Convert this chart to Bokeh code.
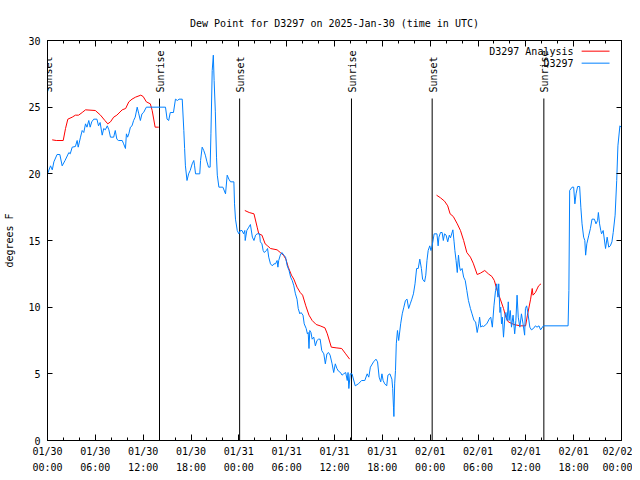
import math
from bokeh.plotting import figure
from bokeh.models import Range1d, FixedTicker, LinearAxis, Label
from bokeh.core.properties import value
from bokeh.embed import file_html
from bokeh.resources import INLINE

NAN = float("nan")

# ---- data (hours since 2025-01-30 00:00 UTC, dew point in degrees F) ----
obs_hours = [0.0, 0.38, 0.6, 0.8, 1.2, 1.55, 1.84, 2.2, 2.68, 2.85, 3.1, 3.5, 3.72, 3.85, 4.14, 4.35, 4.55, 4.77,
             4.95, 5.18, 5.35, 5.55, 5.8, 6.2, 6.4, 6.6, 6.86, 7.05, 7.25, 7.5, 7.7, 7.9, 8.3, 8.5, 8.7, 8.9, 9.37,
             9.55, 9.78, 9.9, 10.05, 10.2, 10.4, 10.6, 10.8, 11.0, 11.25, 11.45, 11.65, 11.85, 12.05, 12.4, 14.8,
             15.0, 15.2, 15.4, 15.8, 16.05, 16.3, 16.5, 16.9, 17.1, 17.2, 17.3, 17.5, 17.7, 17.9, 18.15, 18.35,
             18.45, 18.57, 19.1, 19.2, 19.4, 19.6, 19.8, 20.0, 20.2, 20.4, 20.5, 20.66, 20.8, 20.9, 21.05, 21.2,
             21.3, 21.5, 22.0, 22.33, 22.54, 22.75, 22.96, 23.38, 23.46, 23.58, 23.8, 24.0, 24.2, 24.4, 24.6,
             24.75, 24.8, 25.0, 25.25, 25.45, 25.7, 25.9, 26.1, 26.3, 26.6, 26.7, 26.9, 27.05, 27.2, 27.45, 27.6,
             27.75, 27.97, 28.2, 28.4, 28.6, 28.8, 28.9, 29.0, 29.2, 29.4, 29.65, 29.86, 30.07, 30.3, 30.5, 30.7,
             30.9, 31.1, 31.3, 31.45, 31.65, 31.8, 32.05, 32.2, 32.45, 32.6, 32.7, 32.8, 32.9, 33.05, 33.2, 33.4,
             33.6, 33.8, 34.0, 34.2, 34.4, 34.66, 34.85, 35.05, 35.25, 35.45, 35.7, 35.9, 36.1, 36.3, 36.5, 36.75,
             36.95, 37.15, 37.4, 37.6, 37.7, 37.8, 37.97, 38.2, 38.6, 39.0, 39.4, 39.8, 40.1, 40.3, 40.5, 40.9,
             41.2, 41.4, 41.6, 41.8, 41.95, 42.1, 42.3, 42.55, 42.7, 42.95, 43.2, 43.3, 43.4, 43.45, 43.55, 43.65,
             43.75, 43.9, 44.05, 44.3, 44.5, 44.7, 44.9, 45.1, 45.3, 45.5, 45.7, 45.9, 46.1, 46.3, 46.5, 46.7,
             46.9, 47.05, 47.3, 47.45, 47.6, 47.75, 47.95, 48.1, 48.25, 48.5, 48.85, 49.0, 49.1, 49.3, 49.5,
             49.65, 49.8, 50.0, 50.2, 50.4, 50.55, 50.85, 51.0, 51.1, 51.25, 51.4, 51.55, 51.7, 51.8, 52.0, 52.2,
             52.4, 52.6, 52.8, 53.05, 53.25, 53.5, 53.7, 53.9, 54.1, 54.2, 54.35, 54.5, 54.7, 55.1, 55.4, 55.6,
             55.8, 56.0, 56.2, 56.35, 56.5, 56.6, 56.75, 56.85, 56.95, 57.05, 57.2, 57.4, 57.5, 57.65, 57.8, 57.9,
             58.05, 58.2, 58.4, 58.6, 58.75, 58.9, 59.05, 59.25, 59.45, 59.65, 59.85, 59.95, 60.1, 60.25, 60.5,
             60.7, 60.95, 61.2, 61.4, 61.65, 61.85, 62.2, 65.3, 65.4, 65.5, 65.8, 66.0, 66.15, 66.3, 66.5, 66.75,
             66.9, 67.05, 67.25, 67.4, 67.5, 67.65, 67.9, 68.1, 68.3, 68.6, 68.8, 69.0, 69.1, 69.25, 69.4, 69.5,
             69.7, 70.0, 70.2, 70.4, 70.6, 70.8, 70.96, 71.2, 71.4, 71.55, 71.8, 71.95]
obs_dewpt = [20.0, 20.6, 20.3, 20.9, 21.45, 21.45, 20.6, 21.0, 21.6, 21.5, 22.0, 22.05, 22.5, 22.0, 22.75, 23.25,
             23.1, 23.75, 23.5, 24.0, 23.5, 23.9, 24.1, 24.1, 23.6, 23.85, 22.9, 23.4, 23.3, 23.6, 23.3, 22.75,
             22.75, 23.25, 22.6, 22.5, 22.5, 22.25, 21.9, 23.0, 22.75, 23.0, 23.5, 23.6, 24.0, 24.25, 25.0, 24.5,
             24.0, 24.5, 24.6, 25.0, 25.0, 24.1, 24.0, 24.6, 24.6, 25.6, 25.5, 25.6, 25.6, 23.25, 21.9, 20.6,
             19.5, 20.0, 20.25, 20.75, 21.0, 20.6, 20.0, 20.0, 21.0, 22.0, 21.75, 21.4, 20.9, 20.5, 20.5, 23.0,
             27.75, 28.9, 27.0, 24.7, 21.25, 19.9, 19.0, 19.0, 18.5, 19.9, 19.6, 19.4, 19.4, 17.75, 16.6, 15.75,
             15.5, 15.75, 15.75, 15.5, 15.75, 15.0, 15.75, 16.0, 16.2, 15.25, 15.0, 15.4, 15.5, 15.5, 14.9, 14.75,
             14.25, 14.1, 14.25, 14.4, 13.75, 13.25, 13.1, 13.25, 13.25, 13.5, 13.0, 13.5, 13.9, 14.1, 13.9,
             13.75, 13.1, 12.75, 12.25, 12.0, 11.6, 11.0, 10.6, 9.9, 9.5, 9.6, 9.4, 8.75, 8.4, 8.0, 8.1, 6.9,
             8.25, 8.1, 7.6, 7.75, 7.1, 7.5, 7.6, 7.6, 6.75, 6.5, 5.75, 6.5, 6.6, 6.4, 5.75, 5.1, 5.75, 5.4, 5.2,
             5.1, 4.9, 5.0, 5.1, 4.5, 5.1, 3.9, 5.0, 5.0, 4.1, 4.25, 4.5, 4.5, 5.0, 4.75, 5.5, 5.9, 6.1, 5.9,
             4.75, 4.4, 5.0, 4.5, 4.25, 4.1, 4.9, 5.0, 4.6, 3.9, 2.5, 1.8, 4.3, 5.25, 7.25, 8.25, 7.5, 8.75, 9.5,
             10.0, 10.5, 10.6, 9.9, 10.25, 10.6, 11.0, 11.75, 12.9, 12.9, 13.6, 12.9, 12.1, 11.9, 12.4, 13.5,
             14.25, 14.6, 14.25, 14.6, 15.5, 15.5, 14.6, 15.25, 15.6, 15.6, 15.0, 15.5, 15.4, 14.9, 15.4, 15.2,
             15.8, 14.9, 14.25, 13.5, 12.6, 13.9, 13.0, 12.75, 12.9, 12.25, 12.0, 11.25, 10.5, 9.9, 9.5, 9.0,
             8.9, 8.1, 8.75, 9.25, 8.5, 8.6, 8.55, 8.75, 9.1, 9.25, 8.5, 10.1, 11.25, 11.75, 10.75, 11.75, 9.6,
             10.0, 8.75, 9.25, 7.75, 9.5, 9.6, 9.0, 10.4, 9.0, 9.75, 8.5, 9.4, 8.0, 9.0, 10.9, 9.25, 8.5, 9.5,
             8.75, 7.9, 9.9, 10.1, 9.6, 8.5, 8.3, 8.4, 8.6, 8.5, 8.6, 8.3, 8.6, 8.6, 11.25, 18.75, 19.0, 19.0,
             17.75, 18.5, 19.05, 19.05, 17.5, 16.25, 15.25, 15.0, 13.9, 14.75, 15.4, 15.9, 16.6, 16.6, 16.25,
             16.5, 17.1, 16.25, 15.75, 15.5, 15.75, 14.4, 15.25, 14.5, 14.6, 14.9, 15.6, 16.9, 19.5, 22.1, 23.6,
             23.5]

ana_hours = [0.59, 1.1, 1.97, 2.26, 2.55, 3.1, 3.5, 3.9, 4.35, 4.77, 6.0, 6.65, 7.2, 7.56, 7.9, 8.3, 8.7, 9.37,
             9.8, 10.2, 10.6, 11.04, 11.7, 12.0, 12.4, 12.9, 13.13, 13.5, 13.96, NAN,
             24.75, 25.3, 25.9, 26.3, 26.5, 26.9, 27.3, 27.6, 27.97, 28.8, 29.2, 29.6, 29.9, 30.2, 30.6, 30.9,
             31.3, 31.7, 32.0, 32.4, 32.8, 33.2, 33.7, 34.2, 34.8, 35.1, 35.6, 36.2, 36.9, 37.4, 37.9, NAN,
             48.8, 49.3, 49.8, 50.2, 50.5, 50.9, 51.4, 51.8, 52.2, 52.6, 53.05, 53.4, 53.9, 54.3, 54.85, 55.3,
             55.75, 56.05, 56.4, 56.8, 57.2, 57.5, 57.8, 58.5, 59.3, 59.97, 60.2, 60.6, 60.8, 60.9, 61.2, 61.6,
             61.9]
ana_dewpt = [22.55, 22.5, 22.5, 23.4, 24.1, 24.25, 24.4, 24.4, 24.6, 24.8, 24.75, 24.4, 24.0, 23.75, 23.9, 24.25,
             24.4, 24.8, 24.9, 25.4, 25.6, 25.75, 25.9, 25.8, 25.4, 25.25, 24.75, 23.5, 23.5, NAN,
             17.25, 17.1, 17.0, 16.0, 15.5, 15.4, 14.75, 14.6, 14.4, 14.3, 14.1, 13.9, 13.6, 13.0, 12.4, 12.1,
             11.5, 11.1, 10.9, 10.1, 9.4, 9.0, 8.7, 8.6, 8.45, 8.0, 7.0, 6.95, 6.9, 6.5, 6.1, NAN,
             18.4, 18.2, 17.95, 17.6, 17.0, 16.8, 16.25, 15.75, 15.0, 14.1, 13.75, 13.3, 12.45, 12.55, 12.75, 12.5,
             12.3, 12.0, 11.25, 10.6, 9.9, 9.25, 8.9, 8.7, 8.6, 8.6, 9.4, 10.6, 11.4, 10.9, 11.1, 11.6, 11.75]

sun_hours = [0.0, 14.05, 24.1, 38.13, 48.25, 62.26]
sun_labels = ["Sunset", "Sunrise", "Sunset", "Sunrise", "Sunset", "Sunrise"]

x_tick_hours = [0, 6, 12, 18, 24, 30, 36, 42, 48, 54, 60, 66, 72]
x_tick_labels = ["01/30\n00:00", "01/30\n06:00", "01/30\n12:00", "01/30\n18:00", "01/31\n00:00",
                 "01/31\n06:00", "01/31\n12:00", "01/31\n18:00", "02/01\n00:00", "02/01\n06:00",
                 "02/01\n12:00", "02/01\n18:00", "02/02\n00:00"]
x_minor_hours = list(range(0, 73, 2))
y_ticks = [0, 5, 10, 15, 20, 25, 30]

series_names = ["D3297 Analysis", "D3297"]
series_colors = ["#ff0000", "#0080ff"]

FONT = "DejaVu Sans Mono"

p = figure(width=632, height=476, x_range=Range1d(0, 72), y_range=Range1d(0, 30),
           output_backend="svg", toolbar_location=None,
           min_border_left=47, min_border_right=11, min_border_top=40, min_border_bottom=36,
           title="Dew Point for D3297 on 2025-Jan-30 (time in UTC)")
p.title.text_font = FONT
p.title.text_font_size = "10px"
p.title.text_font_style = "normal"
p.title.text_color = "black"
p.title.align = "center"
p.title.standoff = 23
p.xgrid.visible = False
p.ygrid.visible = False
p.outline_line_color = "black"
p.outline_line_width = 1
p.background_fill_color = "white"
p.border_fill_color = "white"

xt = FixedTicker(ticks=x_tick_hours, minor_ticks=x_minor_hours)
yt = FixedTicker(ticks=y_ticks, minor_ticks=[])


def style_axis(ax):
    ax.axis_line_color = "black"
    ax.major_tick_line_color = "black"
    ax.minor_tick_line_color = "black"
    ax.major_tick_in = 6
    ax.major_tick_out = 0
    ax.minor_tick_in = 3
    ax.minor_tick_out = 0
    ax.major_label_text_font = FONT
    ax.major_label_text_font_size = "10px"
    ax.major_label_text_color = "black"
    ax.axis_label_text_font = FONT
    ax.axis_label_text_font_size = "10px"
    ax.axis_label_text_font_style = "normal"
    ax.axis_label_text_color = "black"


xa = p.xaxis[0]
xa.ticker = xt
xa.major_label_overrides = {h: lab for h, lab in zip(x_tick_hours, x_tick_labels)}
style_axis(xa)
xa.major_label_standoff = 5
xa.major_label_text_line_height = 1.5

ya = p.yaxis[0]
ya.ticker = yt
style_axis(ya)
ya.major_label_standoff = 7
ya.axis_label = "degrees F"
ya.axis_label_standoff = 10
ya.major_tick_in = 5

# mirrored tick marks on top and right (no labels)
top = LinearAxis(ticker=xt)
style_axis(top)
top.major_label_overrides = {h: "" for h in x_tick_hours}
top.major_label_standoff = 0
p.add_layout(top, "above")
right = LinearAxis(ticker=yt)
style_axis(right)
right.major_label_overrides = {t: "" for t in y_ticks}
right.major_label_standoff = 0
right.major_tick_in = 5
p.add_layout(right, "right")

# sunrise / sunset markers
p.segment(x0=sun_hours, y0=[0] * len(sun_hours), x1=sun_hours, y1=[25.65] * len(sun_hours),
          line_color="black", line_width=1)
p.text(x=sun_hours, y=[26.1] * len(sun_hours), text=sun_labels, angle=math.pi / 2,
       text_font=value(FONT), text_font_size="10px", text_align="left", text_baseline="middle",
       text_color="black", x_offset=1)

# data
p.line(ana_hours, ana_dewpt, line_color=series_colors[0], line_width=1)
p.line(obs_hours, obs_dewpt, line_color=series_colors[1], line_width=1)

# legend (gnuplot style: label then sample)
leg_y = [29.2, 28.3]
for name, yy in zip(series_names, leg_y):
    p.add_layout(Label(x=65.98, y=yy, text=name, text_font=FONT, text_font_size="10px",
                       text_align="right", text_baseline="middle", text_color="black"))
p.segment(x0=[67.0, 67.0], y0=leg_y, x1=[70.5, 70.5], y1=leg_y, line_color=series_colors, line_width=1)

open("out.html", "w").write(file_html(p, INLINE))
